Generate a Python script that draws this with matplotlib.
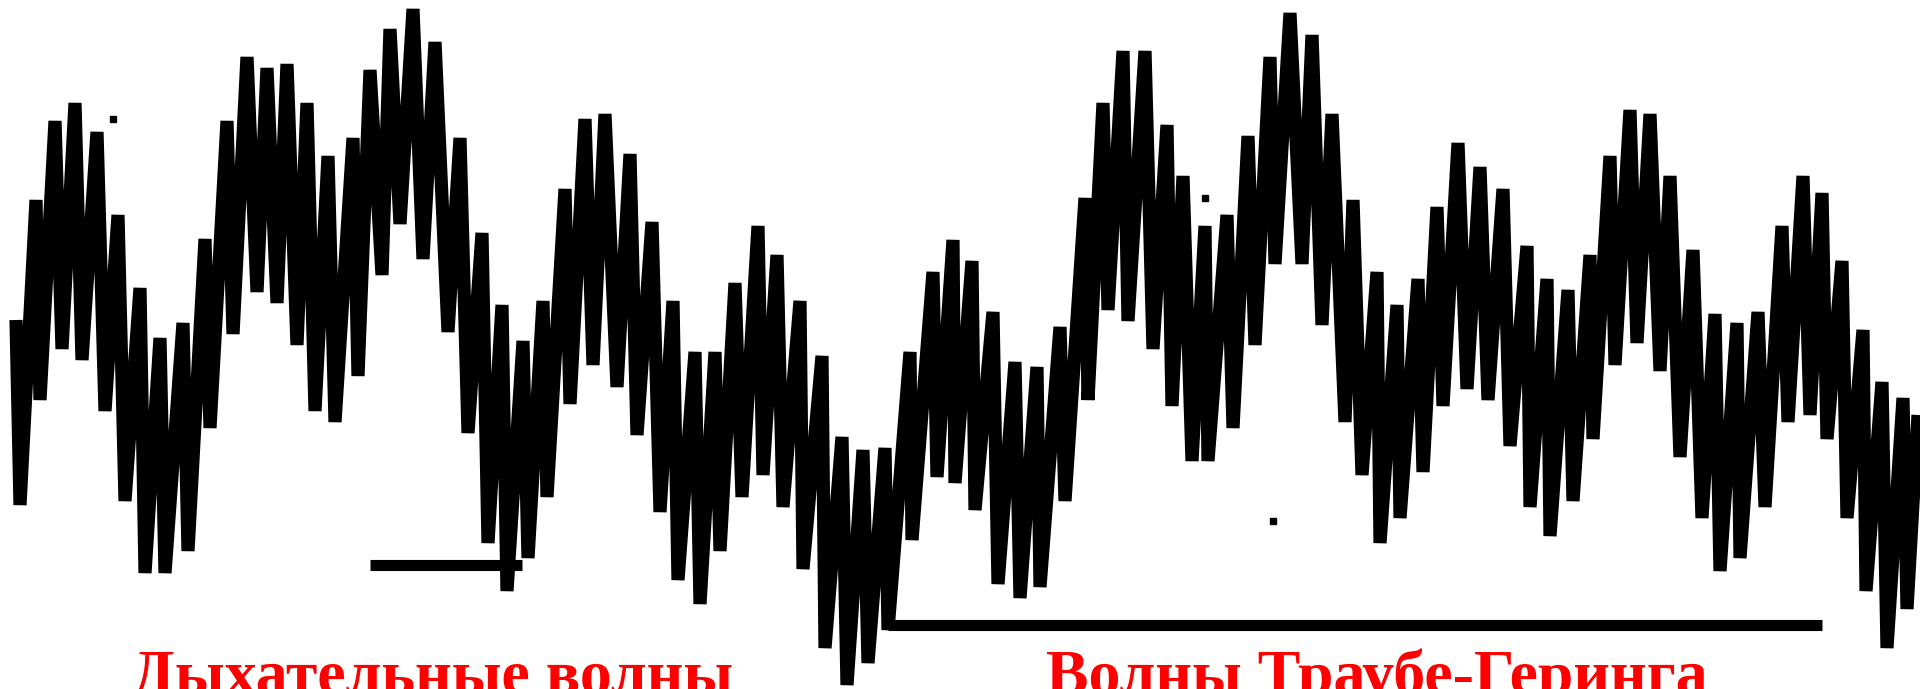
import matplotlib
matplotlib.use("Agg")
import matplotlib.pyplot as plt

# trace vertices (x = time in px, y = level in px, top = 0)
trace_x = [16, 20, 36, 40, 55, 62, 75, 82, 97, 105, 118, 125, 140, 145, 160, 165, 183, 188, 205, 210,
           227, 233, 247, 257, 267, 277, 287, 297, 307, 315,
           328, 335, 353, 358, 370, 382, 390, 400, 413, 423, 435, 448, 460, 468, 482, 488, 502, 507, 523, 528,
           543, 547, 565, 570, 585, 593, 605, 617, 630, 637,
           652, 660, 673, 678, 695, 700, 715, 720, 735, 742, 758, 763, 777, 783, 800, 803, 822, 825, 842, 847,
           863, 868, 885, 888, 910, 912, 933, 937, 953, 955,
           972, 975, 993, 998, 1015, 1020, 1037, 1040, 1060, 1065, 1085, 1088, 1103, 1108, 1123, 1128, 1145, 1153,
           1167, 1172, 1183, 1192, 1205, 1208, 1227, 1233, 1248, 1255, 1270, 1275,
           1290, 1302, 1312, 1322, 1332, 1345, 1353, 1362, 1377, 1380, 1397, 1400, 1418, 1423, 1437, 1443,
           1458, 1467, 1480, 1488, 1503, 1510, 1527, 1530, 1547, 1550, 1568, 1573, 1590, 1593,
           1610, 1615, 1630, 1637, 1650, 1660, 1670, 1680, 1693, 1702, 1715, 1720, 1737, 1740, 1758, 1765,
           1782, 1788, 1803, 1810, 1822, 1827, 1842, 1847, 1863, 1866, 1882, 1887, 1903, 1907, 1918]
trace_y = [320, 505, 200, 400, 121, 349, 103, 360, 132, 411, 215, 501, 288, 573, 338, 573, 323, 551, 239, 428,
           121, 334, 57, 292, 68, 303, 64, 345, 103, 411,
           156, 422, 138, 376, 70, 275, 29, 224, 9, 259, 42, 332, 138, 433, 233, 543, 305, 591, 341, 558,
           301, 497, 189, 404, 119, 365, 114, 387, 154, 435,
           222, 512, 301, 580, 352, 604, 352, 551, 283, 497, 226, 475, 255, 507, 301, 569, 356, 648, 437, 685,
           450, 663, 448, 630, 352, 540, 272, 477, 240, 483,
           261, 510, 312, 584, 362, 598, 367, 587, 327, 501, 198, 400, 103, 310, 51, 321, 51, 349,
           125, 406, 176, 461, 226, 461, 215, 428, 136, 345, 57, 264,
           13, 264, 35, 325, 114, 422, 200, 475, 272, 543, 305, 518, 279, 472, 207, 406,
           143, 389, 167, 400, 189, 446, 246, 507, 279, 536, 290, 501, 255, 439,
           156, 365, 110, 343, 114, 371, 176, 457, 250, 518, 314, 571, 323, 558, 312, 507,
           226, 422, 176, 415, 193, 439, 261, 518, 330, 591, 382, 648, 398, 609, 415]

# stray specks in the scan
speck_x = [113, 1205, 1273]
speck_y = [119, 198, 521]

# period markers
bar_start = [370, 888]
bar_end = [522, 1822]
bar_level = [565, 625]

labels = ["Дыхательные волны", "Волны Траубе-Геринга"]
label_x = [131, 1046]

fig = plt.figure(figsize=(19.2, 6.89), dpi=100)
ax = fig.add_axes([0, 0, 1, 1])
ax.set_xlim(0, 1920)
ax.set_ylim(689, 0)
ax.axis('off')

ax.plot(trace_x, trace_y, color='black', lw=9.5,
        solid_joinstyle='bevel', solid_capstyle='butt')
ax.plot(speck_x, speck_y, 's', color='black', ms=5)
ax.hlines(bar_level, bar_start, bar_end, color='black', lw=8)

for txt, x in zip(labels, label_x):
    ax.text(x, 694, txt, color='#ff0000', fontsize=46, fontweight='bold',
            family='Liberation Serif', ha='left', va='baseline')

fig.savefig('out.png', dpi=100)
